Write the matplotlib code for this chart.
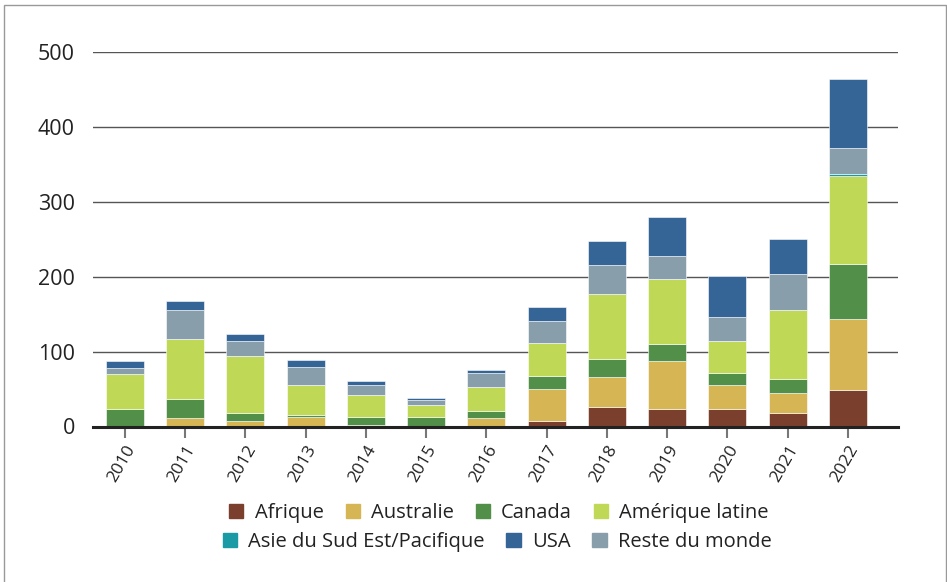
import matplotlib
matplotlib.use("Agg")
import numpy as np
import matplotlib.pyplot as plt
from matplotlib.patches import Rectangle, Patch

plt.rcParams['font.family'] = ['Open Sans', 'DejaVu Sans']

years = ["2010", "2011", "2012", "2013", "2014", "2015", "2016",
         "2017", "2018", "2019", "2020", "2021", "2022"]

afrique = [0, 0, 0, 0, 0, 0, 0, 7.4, 26, 23.5, 23.5, 18.2, 49]
australie = [1, 10.7, 7.8, 13, 2.5, 0.5, 10.7, 43.2, 40, 63.7, 31.8, 26.7, 94.3]
canada = [22, 26, 10, 2, 10, 12, 10, 17.5, 23.7, 22.7, 15.7, 18.1, 74.5]
amerique_latine = [47, 79.7, 77, 40, 29.5, 16.7, 32.3, 44, 87.7, 86.8, 43.7, 92.1, 117]
asie = [0, 0, 0, 0, 0, 0, 0, 0, 0, 0, 0, 0, 3]
reste_monde = [8, 39, 20, 24, 13.3, 6, 18.5, 29, 39, 31.8, 31.3, 48.6, 34]
usa = [10, 12, 9.5, 10.5, 5.2, 2.3, 4.7, 19.2, 31.7, 51.2, 55, 46.3, 93]

# stacking order, bottom to top
stack = [
    ("Afrique", afrique, "#7b402d"),
    ("Australie", australie, "#d6b654"),
    ("Canada", canada, "#52904a"),
    ("Amérique latine", amerique_latine, "#bfd957"),
    ("Asie du Sud Est / Pacifique", asie, "#1a9aa5"),
    ("Reste du monde", reste_monde, "#889eaa"),
    ("USA", usa, "#356596"),
]
colors = {name: c for name, _, c in stack}

fig = plt.figure(figsize=(9.47, 5.82), dpi=100)
ax = fig.add_axes([93 / 947, 1 - 426.5 / 582, (898 - 93) / 947, (426.5 - 52.5) / 582])

x = np.arange(len(years))
bottom = np.zeros(len(years))
for name, vals, c in stack:
    ax.bar(x, vals, bottom=bottom, width=0.63, color=c, edgecolor="white",
           linewidth=0.4, zorder=3)
    bottom = bottom + np.array(vals)

ax.set_ylim(0, 500)
ax.set_xlim(-0.53, 12.83)
ax.set_yticks([0, 100, 200, 300, 400, 500])
ax.yaxis.grid(True, color="#555555", linewidth=1, zorder=0)
ax.tick_params(axis="y", length=0, labelsize=15.5, pad=13, labelcolor="#222222")
ax.tick_params(axis="x", length=8, width=1.5, color="#777777", labelsize=12.5,
               labelcolor="#222222")
ax.set_xticks(x)
ax.set_xticklabels(years, rotation=60, ha="right", va="top", rotation_mode="anchor")
for s in ["top", "right", "left"]:
    ax.spines[s].set_visible(False)
ax.spines["bottom"].set_linewidth(2.2)
ax.spines["bottom"].set_color("#222222")
ax.spines["bottom"].set_zorder(4)

row1 = ["Afrique", "Australie", "Canada", "Amérique latine"]
row2 = ["Asie du Sud Est / Pacifique", "USA", "Reste du monde"]
labels2 = ["Asie du Sud Est/Pacifique", "USA", "Reste du monde"]
leg_kw = dict(frameon=False, fontsize=14.5, handlelength=0.7, handleheight=0.7,
              handletextpad=0.55, columnspacing=1.1, labelcolor="#222222")
fig.legend([Patch(color=colors[n]) for n in row1], row1, ncol=4,
           loc="center", bbox_to_anchor=(499 / 947, 1 - 513 / 582), **leg_kw)
fig.legend([Patch(color=colors[n]) for n in row2], labels2, ncol=3,
           loc="center", bbox_to_anchor=(497 / 947, 1 - 542 / 582), **leg_kw)

fig.patches.append(Rectangle((4 / 947, -0.01), 942 / 947, 1 - 5 / 582 + 0.01,
                             transform=fig.transFigure, fill=False,
                             edgecolor="#999999", linewidth=1))

fig.savefig("out.png", dpi=100)
